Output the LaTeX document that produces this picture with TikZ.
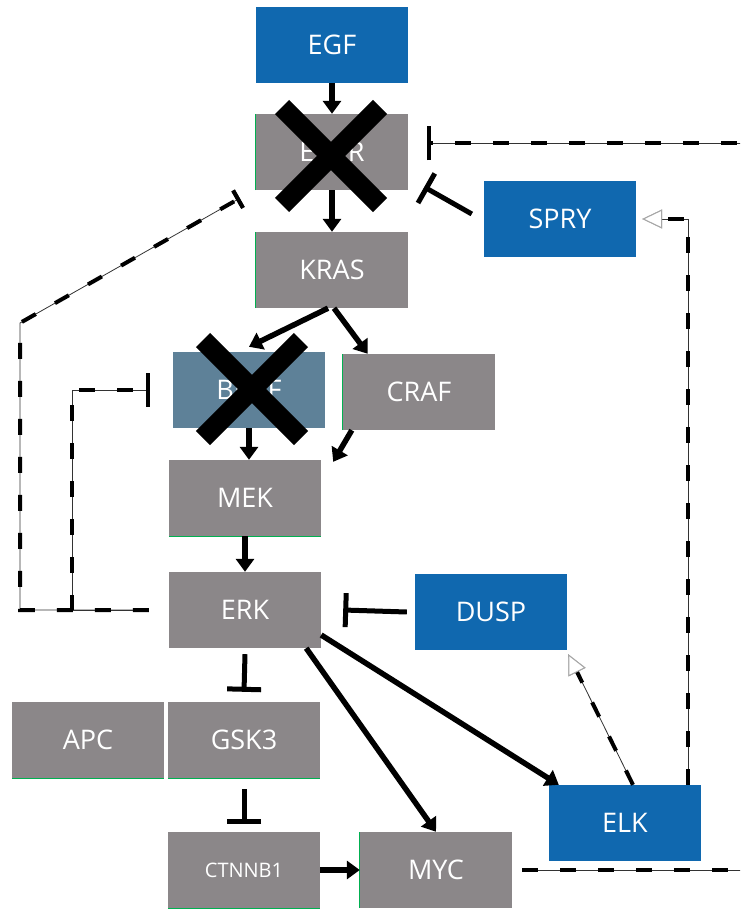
\documentclass[tikz,border=0pt]{standalone}
\usepackage{fontspec}
\setmainfont{Open Sans}
\usetikzlibrary{arrows.meta,shapes.misc}

\definecolor{genblue}{RGB}{16,104,175}
\definecolor{gengray}{RGB}{139,135,137}
\definecolor{genslate}{RGB}{94,129,152}
\definecolor{rimgreen}{RGB}{0,176,80}

\begin{document}
\begin{tikzpicture}[x=1pt,y=-1pt]
% Define the node styles
\tikzstyle{gene} = [rectangle, minimum width=152pt, minimum height=76pt, inner sep=0pt, text=white, font=\fontsize{27}{32}\selectfont]
\tikzstyle{kin} = [gene, fill=gengray]
\tikzstyle{reg} = [gene, fill=genblue]
\tikzstyle{mut} = [gene, fill=genslate]
\tikzstyle{knockout} = [cross out, draw=black, line width=20pt, minimum size=98pt, inner sep=0pt, outer sep=0pt]
\tikzstyle{rim} = [draw=rimgreen, line width=1pt]

% Define the arrow styles
\tikzstyle{act} = [-{Triangle[length=13pt,width=18pt]}, line width=5.5pt]
\tikzstyle{inh} = [-{Bar[width=34pt]}, line width=5pt]
\tikzstyle{fb} = [line width=4pt, dash pattern=on 16pt off 22pt, preaction={draw, solid, line width=0.8pt, black!80}]
\tikzstyle{fbact} = [fb, -{Triangle[open, fill=white, color=gray!70, length=20pt, width=19pt, line width=1pt]}]
\tikzstyle{fbinh} = [fb, -{Bar[width=34pt, line width=4pt]}]

\useasboundingbox (0,0) rectangle (740,910);
\clip (0,0) rectangle (740,910);

% Define the nodes
\node[reg] (EGF) at (332,45) {EGF};
\node[kin] (EGFR) at (332,152) {EGFR};
\node[kin] (KRAS) at (332,270) {KRAS};
\node[mut] (BRAF) at (249,390) {BRAF};
\node[kin] (CRAF) at (419,392) {CRAF};
\node[kin] (MEK) at (245,498) {MEK};
\node[kin] (ERK) at (245,610) {ERK};
\node[reg] (DUSP) at (491,612) {DUSP};
\node[reg] (SPRY) at (560,219) {SPRY};
\node[kin] (APC) at (88,740) {APC};
\node[kin] (GSK3) at (244,740) {GSK3};
\node[kin, font=\fontsize{20}{24}\selectfont] (CTNNB1) at (244,870) {CTNNB1};
\node[kin] (MYC) at (436,870) {MYC};
\node[reg] (ELK) at (625,823) {ELK};

% Green rims
\draw[rim] (EGFR.south west) -- (EGFR.north west);
\draw[rim] (KRAS.south west) -- (KRAS.north west);
\draw[rim] (CRAF.south west) -- (CRAF.north west);
\draw[rim] (MYC.south west) -- (MYC.north west);
\draw[rim] (MEK.south west) -- (MEK.south east);
\draw[rim] (APC.south west) -- (APC.south east);
\draw[rim] (GSK3.south west) -- (GSK3.south east);
\draw[rim] (CTNNB1.south west) -- (CTNNB1.south east);

% Define the transitions
\draw[act] (EGF) -- (EGFR);
\draw[act] (EGFR) -- (KRAS);
\draw[act] ([xshift=-4pt]KRAS.south) -- ([yshift=5pt]BRAF.north);
\draw[act] ([xshift=2pt]KRAS.south) -- ([xshift=25pt]CRAF.north west);
\draw[act] (BRAF.south) -- (BRAF.south |- MEK.north);
\draw[act] ([xshift=9pt]CRAF.south west) -- ([xshift=12pt,yshift=-2pt]MEK.north east);
\draw[act] (MEK) -- (ERK);
\draw[act] (CTNNB1) -- (MYC);
\draw[act] ([xshift=-15pt]ERK.south east) -- (MYC.north);
\draw[act] ([yshift=-25pt]ERK.east) -- ([xshift=10pt]ELK.north west);

% Inhibitions
\draw[inh] ([yshift=-6pt]ERK.south) -- ([yshift=10pt]GSK3.north);
\draw[inh] ([yshift=-11pt]GSK3.south) -- ([yshift=8pt]CTNNB1.north);
\draw[inh] ([xshift=-8pt]DUSP.west) -- ([xshift=22pt]ERK.east);
\draw[-{Bar[width=34pt]}, line width=5pt] ([xshift=-12pt,yshift=5pt]SPRY.west) -- ([xshift=16pt,yshift=-35pt]EGFR.east);

% Knockouts
\node[knockout] (EGFRko) at (331,156) {};
\node[knockout] (BRAFko) at (252,389) {};

% Feedback loops
\coordinate (outA) at (20,323);
\coordinate (outB) at (72,390);
\coordinate (outR) at (760,143);
\draw[fbinh, -{Bar[width=20pt, line width=4pt]}] ([xshift=-20pt]ERK.west) -| (outA) -- ([shift={(-16,8)}]EGFR.south west);
\draw[fbinh] ([xshift=-20pt]ERK.west) -| (outB) -- ([xshift=-23pt]BRAF.west);
\draw[fbinh] ([xshift=10pt]MYC.east) -| (outR) -- ([shift={(19,-9)}]EGFR.east);
\draw[fbact] ([xshift=-13pt]ELK.north east) |- ([xshift=6pt]SPRY.east);
\draw[fbact] ([xshift=8pt]ELK.north) -- ([shift={(1,4)}]DUSP.south east);

\end{tikzpicture}
\end{document}
